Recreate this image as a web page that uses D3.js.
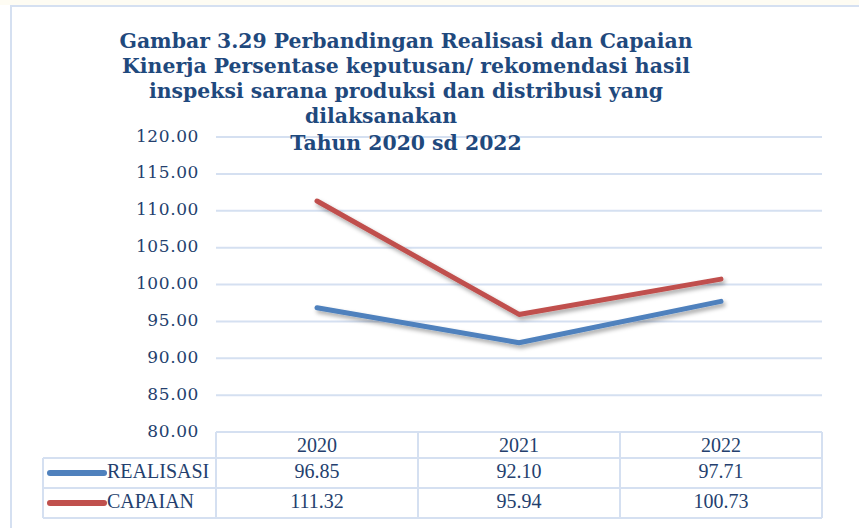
<!DOCTYPE html>
<html>
<head>
<meta charset="utf-8">
<script src="https://cdn.jsdelivr.net/npm/d3@7"></script>
<style>
  body { margin: 0; background: #fff; }
  svg { display: block; }
</style>
</head>
<body>
<div id="chart"></div>
<script>
const years = ['2020', '2021', '2022'];
const realisasi = [96.85, 92.10, 97.71];
const capaian = [111.32, 95.94, 100.73];
const yTicks = [80, 85, 90, 95, 100, 105, 110, 115, 120];
const titleLines = [
  'Gambar 3.29 Perbandingan Realisasi dan Capaian',
  'Kinerja Persentase keputusan/ rekomendasi hasil',
  'inspeksi sarana produksi dan distribusi yang',
  'dilaksanakan',
  'Tahun 2020 sd 2022'
];

const series = [
  { name: 'REALISASI', values: realisasi, color: '#4f81bd' },
  { name: 'CAPAIAN', values: capaian, color: '#c0504d' }
];

const width = 859, height = 528;
const gridCol = '#d5e0f1';
const textCol = '#243f6e';

const svg = d3.select('#chart').append('svg')
  .attr('width', width)
  .attr('height', height);

// drop shadow for the lines
const defs = svg.append('defs');
const f = defs.append('filter').attr('id', 'shadow')
  .attr('x', '-10%').attr('y', '-10%').attr('width', '130%').attr('height', '140%');
f.append('feDropShadow').attr('dx', 2).attr('dy', 3).attr('stdDeviation', 2)
  .attr('flood-color', '#000').attr('flood-opacity', 0.35);

// outer frame
svg.append('rect').attr('x', 0).attr('y', 0).attr('width', width).attr('height', 5).attr('fill', '#fefcf3');
svg.append('path').attr('d', `M11,${height} V6 H${width}`)
  .attr('fill', 'none').attr('stroke', gridCol).attr('stroke-width', 2);

const x = d3.scaleBand().domain(years).range([216, 822]);
const y = d3.scaleLinear().domain([80, 120]).range([432, 137]);

// gridlines
svg.append('g').selectAll('line').data(yTicks.slice(1)).join('line')
  .attr('x1', 216).attr('x2', 822)
  .attr('y1', d => y(d)).attr('y2', d => y(d))
  .attr('stroke', gridCol).attr('stroke-width', 2);

// y axis labels
svg.append('g').selectAll('text').data(yTicks).join('text')
  .attr('x', 199).attr('y', d => y(d))
  .attr('text-anchor', 'end').attr('dominant-baseline', 'middle')
  .attr('font-family', 'DejaVu Serif').attr('font-size', 17)
  .attr('letter-spacing', 0.6)
  .attr('fill', textCol)
  .text(d => d3.format('.2f')(d));

// lines
const line = d3.line()
  .x((d, i) => x(years[i]) + x.bandwidth() / 2)
  .y(d => y(d));

svg.append('g').attr('filter', 'url(#shadow)').selectAll('path').data(series).join('path')
  .attr('d', d => line(d.values))
  .attr('fill', 'none')
  .attr('stroke', d => d.color)
  .attr('stroke-width', 5)
  .attr('stroke-linecap', 'round')
  .attr('stroke-linejoin', 'round');

// data table
const rowTop = [432, 458, 488];
const rowH = [26, 30, 30];
const tableBottom = 518;
const table = svg.append('g');

const hl = [
  { y: 432, x1: 216 },
  { y: 458, x1: 43 },
  { y: 488, x1: 43 },
  { y: tableBottom, x1: 43 }
];
table.selectAll('line.h').data(hl).join('line').attr('class', 'h')
  .attr('x1', d => d.x1).attr('x2', 822)
  .attr('y1', d => d.y).attr('y2', d => d.y)
  .attr('stroke', gridCol).attr('stroke-width', 2);

const vl = [
  { x: 43, y1: 458 },
  ...years.map(yr => ({ x: x(yr), y1: 432 })),
  { x: 822, y1: 432 }
];
table.selectAll('line.v').data(vl).join('line').attr('class', 'v')
  .attr('x1', d => d.x).attr('x2', d => d.x)
  .attr('y1', d => d.y1).attr('y2', tableBottom)
  .attr('stroke', gridCol).attr('stroke-width', 2);

const tfont = 'Liberation Serif';

table.selectAll('text.yr').data(years).join('text').attr('class', 'yr')
  .attr('x', d => x(d) + x.bandwidth() / 2)
  .attr('y', rowTop[0] + rowH[0] / 2 + 2)
  .attr('text-anchor', 'middle').attr('dominant-baseline', 'middle')
  .attr('font-family', tfont).attr('font-size', 20)
  .attr('fill', textCol)
  .text(d => d);

series.forEach((s, si) => {
  const cy = rowTop[si + 1] + rowH[si + 1] / 2;
  table.append('line')
    .attr('x1', 50).attr('x2', 104)
    .attr('y1', cy).attr('y2', cy)
    .attr('stroke', s.color).attr('stroke-width', 6)
    .attr('stroke-linecap', 'round');
  table.append('text')
    .attr('x', 107).attr('y', cy)
    .attr('dominant-baseline', 'middle')
    .attr('font-family', tfont).attr('font-size', 20)
    .attr('fill', textCol)
    .text(s.name);
  table.selectAll(null).data(s.values).join('text')
    .attr('x', (d, i) => x(years[i]) + x.bandwidth() / 2)
    .attr('y', cy)
    .attr('text-anchor', 'middle').attr('dominant-baseline', 'middle')
    .attr('font-family', tfont).attr('font-size', 20)
    .attr('fill', textCol)
    .text(d => d3.format('.2f')(d));
});

// title
const titleX = [406, 406, 406, 381, 406];
const titleY = [48, 73, 98, 123, 150];
svg.append('g').selectAll('text').data(titleLines).join('text')
  .attr('x', (d, i) => titleX[i])
  .attr('y', (d, i) => titleY[i])
  .attr('text-anchor', 'middle')
  .attr('font-family', 'DejaVu Serif').attr('font-weight', 'bold')
  .attr('font-size', 20.4)
  .attr('fill', '#1f497d')
  .text(d => d);
</script>
</body>
</html>
